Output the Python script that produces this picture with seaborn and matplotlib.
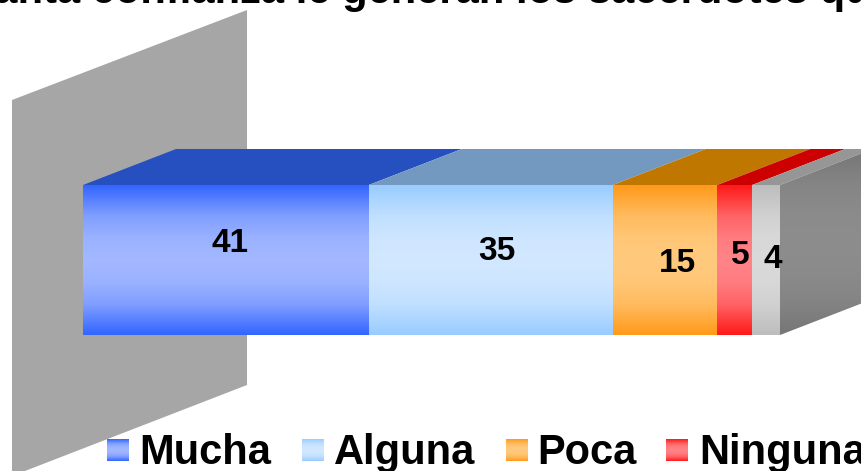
import numpy as np
import pandas as pd
import matplotlib
matplotlib.use("Agg")
import matplotlib.pyplot as plt
from matplotlib.colors import LinearSegmentedColormap, to_rgb
from matplotlib.patches import Polygon
import seaborn as sns

categorias = ["Mucha", "Alguna", "Poca", "Ninguna", "NS/NC"]
valores = [41, 35, 15, 5, 4]
titulo = "uánta confianza le generan los sacerdotes qu"

# colours: edge of the bar, middle of the bar, top face
borde = ["#3366ff", "#99ccff", "#ff9a1a", "#ff1a1a", "#bdbdbd"]
centro = ["#a3b8ff", "#d2e8ff", "#ffca7e", "#ff8488", "#dadada"]
techo = ["#264fc0", "#7399c0", "#c07700", "#cc0000", "#969696"]

W, H = 862, 471
sns.set_theme(style="white")
plt.rcParams["font.family"] = ["Liberation Sans", "DejaVu Sans"]

fig = plt.figure(figsize=(W / 100, H / 100), dpi=100)
ax = fig.add_axes([0, 0, 1, 1])

# 100 units = 697 px, bar height 1 = 150 px
PX_X = 6.97
PX_Y = 150.0
def dx(px):
    return (px - 83) / PX_X
def dy(px):
    return (335 - px) / PX_Y - 0.5
xlim = (dx(0), dx(W))
ylim = (dy(H), dy(0))
DEPTH_X = 93 / PX_X
DEPTH_Y = 36 / PX_Y

def mezcla(c1, c2, t):
    a, b = np.array(to_rgb(c1)), np.array(to_rgb(c2))
    return tuple(a + (b - a) * t)

def degradado(c1, c2, extent, z, clip=None):
    paradas = [(0, 0), (0.2, 0.68), (0.35, 0.92), (0.5, 1), (0.65, 0.92), (0.8, 0.68), (1, 0)]
    cmap = LinearSegmentedColormap.from_list("g", [(p, mezcla(c1, c2, t)) for p, t in paradas])
    grad = np.linspace(0, 1, 200).reshape(-1, 1)
    im = ax.imshow(grad, cmap=cmap, extent=extent, aspect="auto", zorder=z, interpolation="bilinear")
    if clip is not None:
        im.set_clip_path(clip)
    return im

# back wall
ax.add_patch(Polygon([(dx(12), dy(100)), (dx(247), dy(10)), (dx(247), dy(385)), (dx(12), dy(476))],
                     closed=True, facecolor="#a6a6a6", edgecolor="none", zorder=1))

df = pd.DataFrame({"categoria": categorias, "valor": valores})
df["inicio"] = df["valor"].cumsum() - df["valor"]

for i, row in df.iterrows():
    n = len(ax.patches)
    sns.barplot(x=[row["valor"]], y=["a"], orient="h", left=row["inicio"], width=1,
                color=borde[i], saturation=1, linewidth=0, ax=ax, zorder=3)
    bar = ax.patches[n]
    x0, y0 = bar.get_xy()
    x1, y1 = x0 + bar.get_width(), y0 + bar.get_height()
    ylo, yhi = min(y0, y1), max(y0, y1)
    degradado(borde[i], centro[i], (x0, x1, ylo, yhi), 4)
    # top face
    ax.add_patch(Polygon([(x0, yhi), (x1, yhi), (x1 + DEPTH_X, yhi + DEPTH_Y), (x0 + DEPTH_X, yhi + DEPTH_Y)],
                         closed=True, facecolor=techo[i], edgecolor="none", zorder=2))

# right side of the block
x_fin = df["valor"].sum()
lado = Polygon([(x_fin, 0.5), (x_fin + DEPTH_X, 0.5 + DEPTH_Y), (x_fin + DEPTH_X, -0.5 + DEPTH_Y), (x_fin, -0.5)],
               closed=True, facecolor="none", edgecolor="none", transform=ax.transData, zorder=2)
ax.add_patch(lado)
degradado("#767676", "#8d8d8d", (x_fin, x_fin + DEPTH_X, -0.5, 0.5 + DEPTH_Y), 2, clip=lado)

# value labels, they do not sit at the bar centres in the original
pos_etiquetas = [(230, 244), (497, 252), (677, 264), (740, 256), (773, 260)]
for v, (px, py) in zip(valores, pos_etiquetas):
    ax.text(dx(px), dy(py), str(v), ha="center", va="center", fontsize=24, fontweight="bold", color="black", zorder=6)

# legend, the last entry falls outside the picture
pos_leyenda = [(107, 139), (302, 334), (506, 537), (666, 699)]
for i, (sx, tx) in enumerate(pos_leyenda):
    degradado(borde[i], centro[i], (dx(sx), dx(sx + 22), dy(461), dy(439)), 5)
    ax.text(dx(tx), dy(464), categorias[i], ha="left", va="baseline", fontsize=30, fontweight="bold", color="black", zorder=6)

ax.text(dx(-31), dy(3.5), titulo, ha="left", va="baseline", fontsize=30, fontweight="bold", color="black", zorder=6)

ax.set_xlim(*xlim)
ax.set_ylim(*ylim)
ax.axis("off")
fig.savefig("out.png", dpi=100)
